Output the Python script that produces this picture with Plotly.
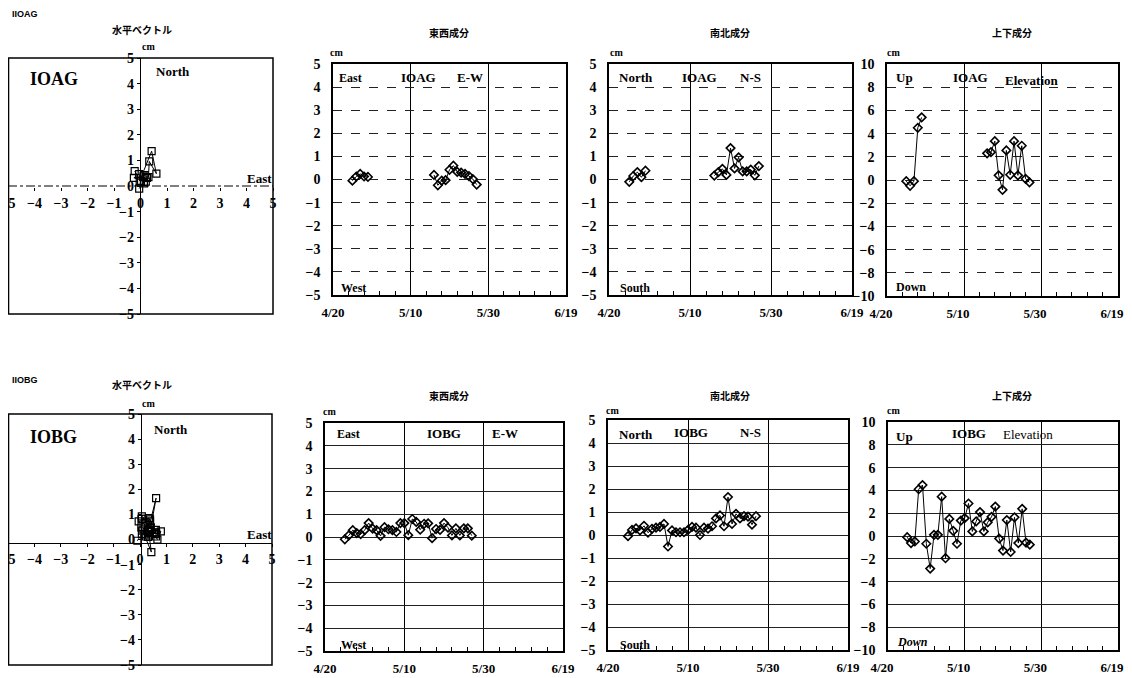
import plotly.graph_objects as go

# the page body has an 8px margin, so the figure is drawn 8px smaller and
# all layout positions (given in window pixels) are shifted by that offset
OFF = 8
W, H = 1132 - OFF, 678 - OFF

# ---------------- data ----------------
dates = ["2000-04-25", "2000-04-26", "2000-04-27", "2000-04-28", "2000-04-29",
         "2000-04-30", "2000-05-01", "2000-05-02", "2000-05-03", "2000-05-04",
         "2000-05-05", "2000-05-06", "2000-05-07", "2000-05-08", "2000-05-09",
         "2000-05-10", "2000-05-11", "2000-05-12", "2000-05-13", "2000-05-14",
         "2000-05-15", "2000-05-16", "2000-05-17", "2000-05-18", "2000-05-19",
         "2000-05-20", "2000-05-21", "2000-05-22", "2000-05-23", "2000-05-24",
         "2000-05-25", "2000-05-26", "2000-05-27"]

# IOAG (cm): gap between 4/29 and 5/16
ioag_ew = [-0.05, 0.13, 0.24, 0.13, 0.11,
           None, None, None, None, None, None, None, None,
           None, None, None, None, None, None, None, None,
           0.2, -0.25, -0.05, -0.03, 0.42, 0.6, 0.33, 0.3, 0.24, 0.15, 0.02, -0.22]
ioag_ns = [-0.1, 0.15, 0.32, 0.1, 0.38,
           None, None, None, None, None, None, None, None,
           None, None, None, None, None, None, None, None,
           0.17, 0.32, 0.46, 0.2, 1.36, 0.48, 0.96, 0.35, 0.35, 0.43, 0.18, 0.58]
ioag_ud = [-0.1, -0.5, -0.1, 4.5, 5.4,
           None, None, None, None, None, None, None, None,
           None, None, None, None, None, None, None, None,
           2.3, 2.4, 3.35, 0.4, -0.85, 2.55, 0.45, 3.35, 0.4, 2.95, 0.1, -0.2]

# IOBG (cm)
iobg_ew = [-0.1, 0.07, 0.3, 0.17, 0.13, 0.3, 0.61, 0.37, 0.3, 0.05, 0.43, 0.34,
           0.3, 0.22, 0.61, 0.61, 0.08, 0.79, 0.66, 0.32, 0.58, 0.6, -0.05, 0.35,
           0.31, 0.61, 0.41, 0.07, 0.38, 0.07, 0.38, 0.38, 0.06]
iobg_ns = [-0.05, 0.22, 0.29, 0.2, 0.4, 0.1, 0.27, 0.32, 0.35, 0.48, -0.5, 0.2,
           0.12, 0.12, 0.12, 0.22, 0.35, 0.32, 0.0, 0.32, 0.28, 0.38, 0.72, 0.85,
           0.38, 1.65, 0.48, 0.92, 0.72, 0.82, 0.8, 0.45, 0.82]
iobg_ud = [-0.1, -0.62, -0.48, 4.1, 4.47, -0.68, -2.86, 0.1, 0.1, 3.45, -1.95, 1.5,
           0.45, -0.68, 1.35, 1.57, 2.85, 0.4, 1.28, 2.1, 0.4, 1.2, 1.68, 2.58,
           -0.23, -1.28, 1.4, -1.4, 1.64, -0.62, 2.38, -0.58, -0.76]

x_range = ["2000-04-20", "2000-06-19"]
x_tick0 = "2000-04-20"

# ---------------- helpers ----------------
SERIF = "Liberation Serif"
CJK = "Noto Sans CJK JP"
DAY = 86400000


def px(x):
    return (x - OFF) / W


def py(y):
    return 1 - (y - OFF) / H


def dx(l, r):
    return [max(0.0, px(l)), min(1.0, px(r))]


def dy(t, b):
    return [max(0.0, py(b)), min(1.0, py(t))]


ytickfont = dict(family=SERIF, size=14, color="black", weight="bold")
xtickfont = dict(family=SERIF, size=13, color="black", weight="bold")

fig = go.Figure()
layout = {}
shapes = []
annotations = []


def ann(text, x, y, size=12, family=SERIF, bold=True, italic=False, xanchor="center"):
    annotations.append(dict(
        text=text, x=px(x), y=py(y), xref="paper", yref="paper",
        xanchor=xanchor, yanchor="middle", showarrow=False,
        font=dict(family=family, size=size, color="black",
                  weight="bold" if bold else "normal",
                  style="italic" if italic else "normal")))


def vector_panel(n, xd, yd, cx, cy, ew, ns, dashed_h):
    xa = "xaxis" if n == 1 else f"xaxis{n}"
    ya = "yaxis" if n == 1 else f"yaxis{n}"
    xr = "x" if n == 1 else f"x{n}"
    yr = "y" if n == 1 else f"y{n}"
    vfont = dict(family=SERIF, size=14, color="black", weight="bold")
    layout[xa] = dict(domain=dx(*xd), range=[-5, 5], anchor="free", position=py(cy),
                      dtick=1, tick0=0, showgrid=False, zeroline=False,
                      showline=not dashed_h, linecolor="black", linewidth=1,
                      ticks="outside", ticklen=3, tickcolor="black",
                      tickfont=vfont, ticklabeloverflow="allow",
                      automargin=False, fixedrange=True)
    layout[ya] = dict(domain=dy(*yd), range=[-5, 5], anchor="free", position=px(cx),
                      dtick=1, tick0=0, showgrid=False, zeroline=False,
                      showline=True, linecolor="black", linewidth=1.3,
                      ticks="outside", ticklen=3, tickcolor="black",
                      tickfont=vfont, ticklabeloverflow="allow",
                      automargin=False, fixedrange=True)
    shapes.append(dict(type="rect", xref=f"{xr} domain", yref=f"{yr} domain",
                       x0=0.002, x1=1, y0=0, y1=1, line=dict(color="black", width=1.5)))
    if dashed_h:
        shapes.append(dict(type="line", xref=f"{xr} domain", yref=yr,
                           x0=0, x1=1, y0=0, y1=0,
                           line=dict(color="black", width=1, dash="dashdot")))
    fig.add_trace(go.Scatter(x=ew, y=ns, xaxis=xr, yaxis=yr, mode="lines+markers",
                             line=dict(color="black", width=1),
                             marker=dict(symbol="square-open", size=7,
                                         color="black", line=dict(width=1.2)),
                             connectgaps=False, showlegend=False, hoverinfo="skip"))


def ts_panel(n, xd, yd, vals, yrange, ydtick, dashed, label_shift=0):
    xa = f"xaxis{n}"
    ya = f"yaxis{n}"
    xr = f"x{n}"
    yr = f"y{n}"
    layout[xa] = dict(domain=dx(*xd), anchor=yr, type="date", range=x_range,
                      tick0=x_tick0, dtick=20 * DAY, tickformat="%-m/%-d",
                      showgrid=True, gridcolor="black", gridwidth=1,
                      showline=True, mirror=True, linecolor="black", linewidth=1.5,
                      ticks="", ticklabelstandoff=5, ticklabelshift=label_shift,
                      tickfont=xtickfont, ticklabeloverflow="allow",
                      minor=dict(ticks="inside", tick0=x_tick0, dtick=4 * DAY,
                                 ticklen=4, tickcolor="black", showgrid=False),
                      automargin=False, fixedrange=True)
    layout[ya] = dict(domain=dy(*yd), anchor=xr, range=yrange, dtick=ydtick,
                      showgrid=True, gridcolor="#222", gridwidth=1,
                      griddash="dash" if dashed else "solid",
                      zeroline=False, showline=True, mirror=True,
                      linecolor="black", linewidth=1.5, ticks="",
                      ticklabelstandoff=8, tickfont=ytickfont,
                      automargin=False, fixedrange=True)
    fig.add_trace(go.Scatter(x=dates, y=vals, xaxis=xr, yaxis=yr, mode="lines+markers",
                             line=dict(color="black", width=1),
                             marker=dict(symbol="diamond-open", size=6.5,
                                         color="black", line=dict(width=1.6)),
                             connectgaps=False, showlegend=False, hoverinfo="skip"))


# ---------------- top row: IOAG ----------------
vector_panel(1, (8, 273), (58, 314), 140, 187, ioag_ew, ioag_ns, True)
ts_panel(2, (333, 566), (64, 295), ioag_ew, [-5, 5], 1, True)
ts_panel(3, (609, 852), (64, 295), ioag_ns, [-5, 5], 1, True)
ts_panel(4, (887, 1118), (64, 296), ioag_ud, [-10, 10], 2, True, label_shift=-6)

# ---------------- bottom row: IOBG ----------------
vector_panel(5, (8, 272), (414, 665), 141, 543, iobg_ew, iobg_ns, False)
ts_panel(6, (325, 563), (423, 651), iobg_ew, [-5, 5], 1, False)
ts_panel(7, (608, 848), (420, 650), iobg_ns, [-5, 5], 1, False)
ts_panel(8, (888, 1118), (422, 650), iobg_ud, [-10, 10], 2, False, label_shift=-6)

# ---------------- text ----------------
# top row
ann("IIOAG", 10, 14, size=9, family="Liberation Sans", xanchor="left")
ann("水平ベクトル", 142, 29, size=10, family=CJK)
ann("cm", 148, 46, size=10)
ann("IOAG", 54, 79, size=18)
ann("North", 173, 72, size=13)
ann("East", 259, 178, size=13)

ann("東西成分", 449, 32, size=10, family=CJK)
ann("cm", 336, 53, size=10)
ann("East", 337, 78, size=12, xanchor="left")
ann("IOAG", 418, 78, size=13)
ann("E-W", 470, 78, size=13)
ann("West", 339, 288, size=12, xanchor="left")

ann("南北成分", 730, 32, size=10, family=CJK)
ann("cm", 617, 53, size=10)
ann("North", 617, 78, size=13, xanchor="left")
ann("IOAG", 699, 78, size=13)
ann("N-S", 750, 78, size=13)
ann("South", 618, 288, size=12, xanchor="left")

ann("上下成分", 1012, 32, size=10, family=CJK)
ann("cm", 893, 53, size=10)
ann("Up", 894, 78, size=13, xanchor="left")
ann("IOAG", 970, 78, size=13)
ann("Elevation", 1031, 80, size=13)
ann("Down", 894, 287, size=12, xanchor="left")

# bottom row
ann("IIOBG", 10, 380, size=9, family="Liberation Sans", xanchor="left")
ann("水平ベクトル", 142, 384, size=10, family=CJK)
ann("cm", 148, 403, size=10)
ann("IOBG", 53, 437, size=18)
ann("North", 171, 429, size=13)
ann("East", 259, 534, size=13)

ann("東西成分", 449, 395, size=10, family=CJK)
ann("cm", 329, 411, size=10)
ann("East", 335, 434, size=12, xanchor="left")
ann("IOBG", 444, 433, size=13)
ann("E-W", 505, 433, size=13)
ann("West", 339, 645, size=12, xanchor="left")

ann("南北成分", 730, 395, size=10, family=CJK)
ann("cm", 612, 410, size=10)
ann("North", 617, 434, size=13, xanchor="left")
ann("IOBG", 691, 432, size=13)
ann("N-S", 750, 432, size=13)
ann("South", 618, 645, size=12, xanchor="left")

ann("上下成分", 1012, 395, size=10, family=CJK)
ann("cm", 893, 410, size=10)
ann("Up", 894, 436, size=13, xanchor="left")
ann("IOBG", 969, 433, size=13)
ann("Elevation", 1028, 434, size=13, bold=False)
ann("Down", 895, 642, size=12, italic=True, xanchor="left")

fig.update_layout(
    width=W, height=H,
    margin=dict(l=0, r=0, t=0, b=0, autoexpand=False),
    paper_bgcolor="white", plot_bgcolor="white",
    showlegend=False,
    shapes=shapes, annotations=annotations,
    **layout,
)

fig.write_html("out.html")
